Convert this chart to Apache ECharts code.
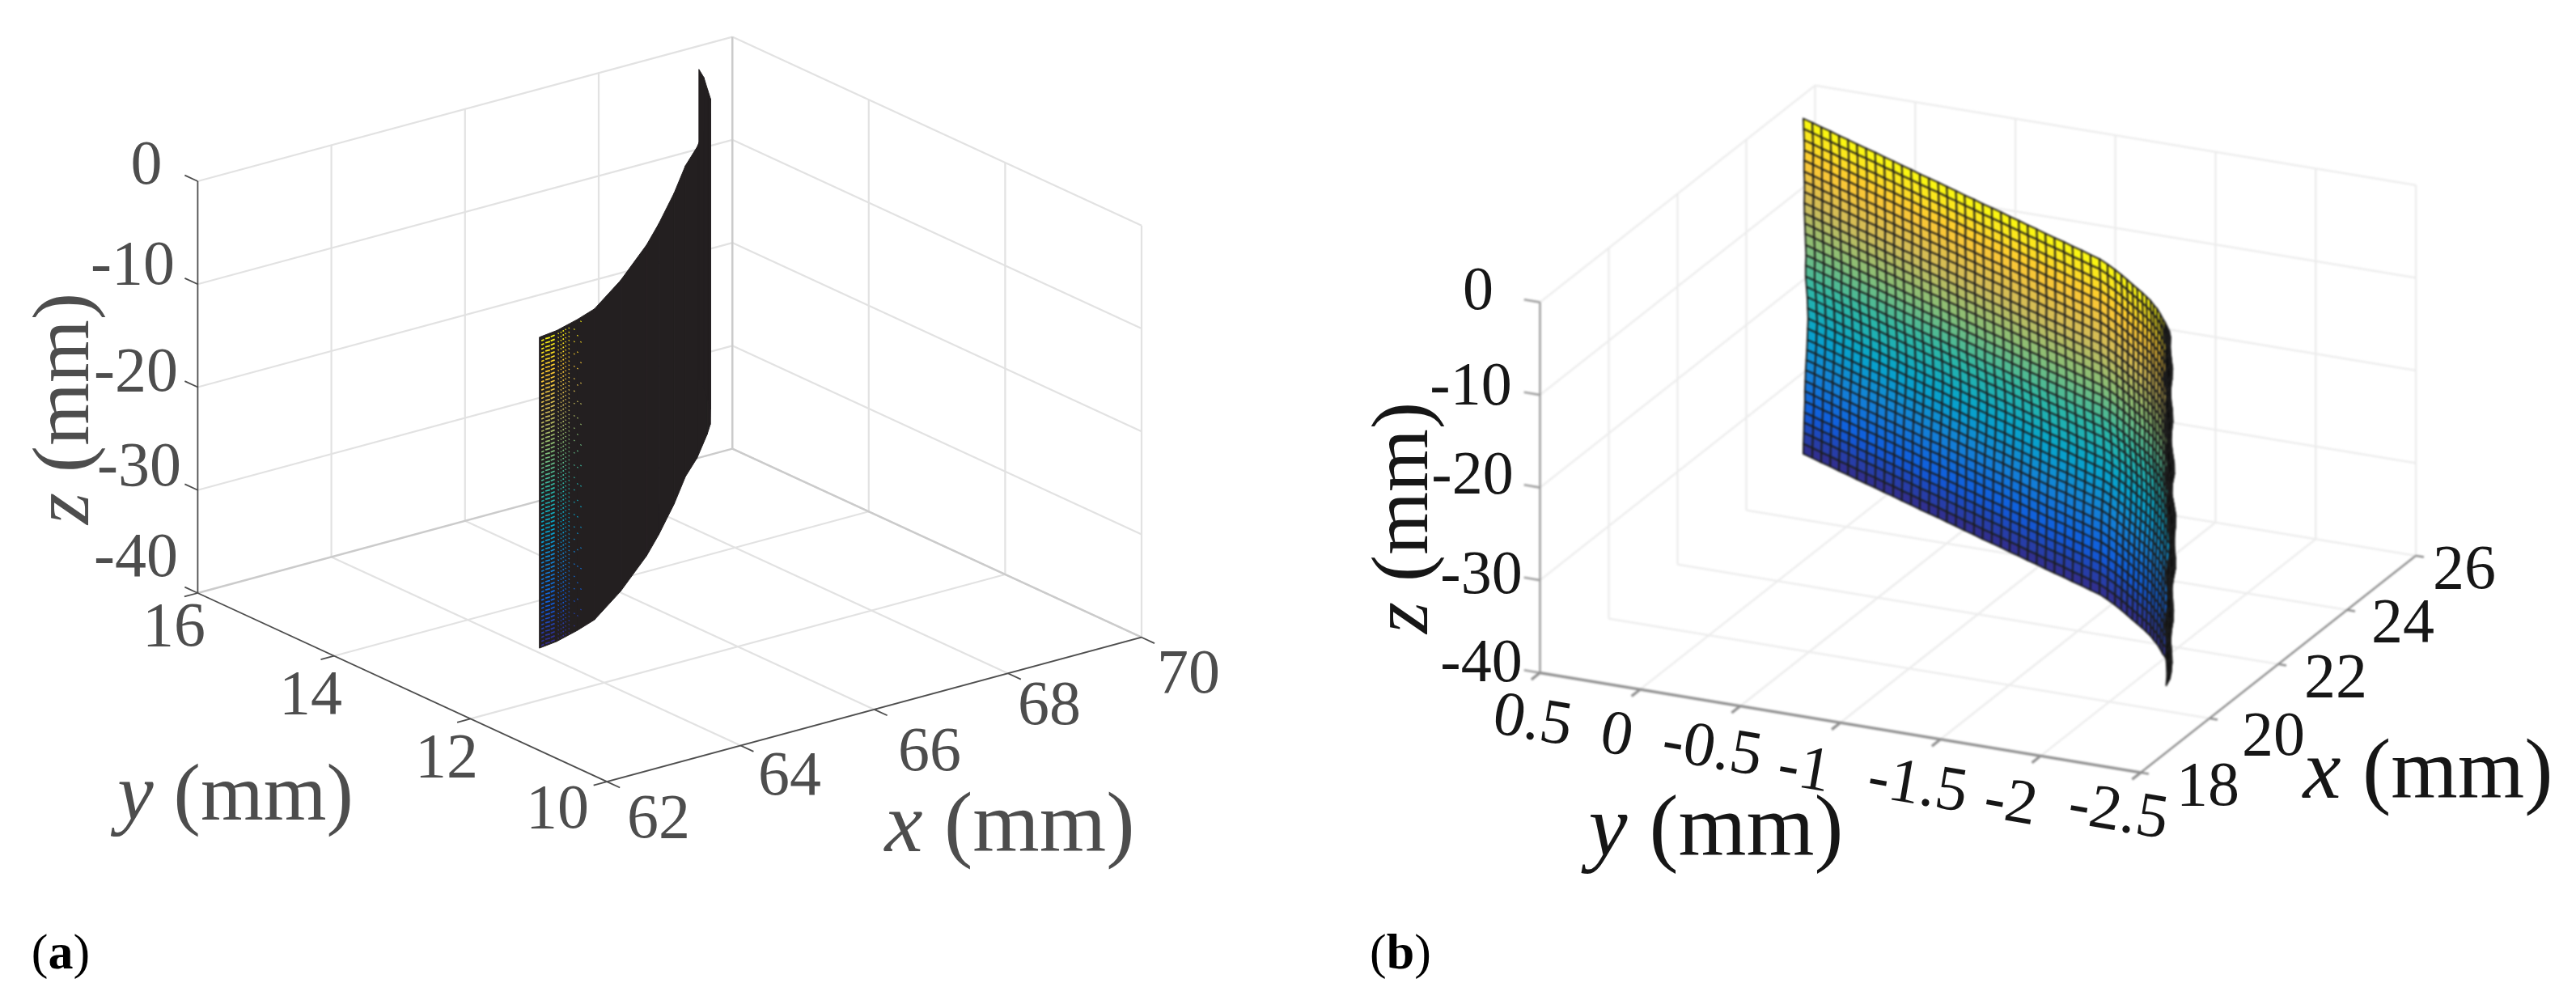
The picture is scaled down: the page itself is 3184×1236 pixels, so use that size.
<!DOCTYPE html>
<html><head><meta charset="utf-8">
<style>html,body{margin:0;padding:0;background:#fff}
#a{position:absolute;left:0;top:0;width:3184px;height:1236px}
#b{position:absolute;left:1592px;top:0;width:1592px;height:1236px;filter:blur(1.1px)}
#bt{position:absolute;left:1592px;top:0;width:1592px;height:1236px;filter:blur(0.4px)}</style>
<script src="https://cdn.jsdelivr.net/npm/echarts@6/dist/echarts.min.js"></script>
</head><body><div id="a"></div><div id="b"></div><div id="bt"></div>
<script>
// ---------- Panel (a): axis ticks ----------
const aXTicks=[62,64,66,68,70];
const aYTicks=[16,14,12,10];
const aZTicks=[0,-10,-20,-30,-40];
// Panel (a): surface columns (mm)
const aColX=[62.03,62.33,62.75,63.13,63.96,64.93,65.48,66.25,66.92,67.41,67.99,68.22,68.53,68.69,68.90,69.02];
const aColY=[11.02,11.06,11.17,11.29,11.72,12.29,12.65,13.18,13.67,13.98,14.40,14.58,14.88,15.08,15.34,15.53];
const aZTop=0;
const aZBottom=-30.2;
// Panel (a): where the colour still shows through the dense mesh (mm)
const aGapX0=[62.06,62.14,62.23,62.36,62.41,62.46,62.51,62.57,62.68,62.75,62.82];
const aGapY0=[11.02,11.04,11.05,11.07,11.08,11.10,11.11,11.12,11.15,11.17,11.19];
const aGapX1=[62.11,62.21,62.30,62.38,62.43,62.48,62.53,62.59,62.70,62.77,62.84];
const aGapY1=[11.03,11.04,11.06,11.08,11.09,11.10,11.12,11.13,11.16,11.18,11.20];
const aGapStride=[1,1,1,1,1,1,1,1,3,4,5];
const aRowZ=[-0.4,-0.8,-1.2,-1.6,-2,-2.4,-2.8,-3.2,-3.6,-4,-4.4,-4.8,-5.2,-5.6,-6,-6.4,-6.8,-7.2,-7.6,-8,-8.4,-8.8,-9.2,-9.6,-10,-10.4,-10.8,-11.2,-11.6,-12,-12.4,-12.8,-13.2,-13.6,-14,-14.4,-14.8,-15.2,-15.6,-16,-16.4,-16.8,-17.2,-17.6,-18,-18.4,-18.8,-19.2,-19.6,-20,-20.4,-20.8,-21.2,-21.6,-22,-22.4,-22.8,-23.2,-23.6,-24,-24.4,-24.8,-25.2,-25.6,-26,-26.4,-26.8,-27.2,-27.6,-28,-28.4,-28.8,-29.2,-29.6,-30];

// ---------- Panel (b): axis ticks ----------
const bXTicks=[18,20,22,24,26];
const bYTicks=[0.5,0,-0.5,-1,-1.5,-2,-2.5];
const bZTicks=[0,-10,-20,-30,-40];
// Panel (b): mesh lines (mm)
const bColX=[25.44,25.36,25.27,25.19,25.10,25.02,24.93,24.85,24.77,24.68,24.60,24.51,24.43,24.34,24.26,24.18,24.09,24.01,23.92,23.84,23.75,23.67,23.59,23.50,23.42,23.33,23.25,23.16,23.08,23.00,22.91,22.83,22.74,22.66,22.54,22.41,22.29,22.17,22.05,21.95,21.85,21.75,21.65,21.54,21.44,21.30,21.17,21.06,20.92,20.81,20.64,20.44,20.22];
const bColY=[0.463,0.404,0.344,0.285,0.226,0.167,0.107,0.048,-0.011,-0.071,-0.130,-0.189,-0.249,-0.308,-0.367,-0.427,-0.486,-0.545,-0.604,-0.664,-0.723,-0.782,-0.842,-0.901,-0.960,-1.020,-1.079,-1.138,-1.197,-1.257,-1.316,-1.375,-1.435,-1.494,-1.554,-1.614,-1.666,-1.715,-1.763,-1.804,-1.846,-1.884,-1.922,-1.956,-1.990,-2.030,-2.065,-2.096,-2.132,-2.160,-2.195,-2.223,-2.243];
const bRowZ=[-38,-36.9,-35.7,-34.6,-33.5,-32.3,-31.2,-30.1,-28.9,-27.8,-26.7,-25.6,-24.4,-23.3,-22.2,-21,-19.9,-18.8,-17.6,-16.5,-15.4,-14.2,-13.1,-12,-10.9,-9.7,-8.6,-7.5,-6.3,-5.2,-4.1,-2.9,-1.8];
const bRowDrift=[0,0.001,0.003,0.004,0.006,0.008,0.008,0.010,0.012,0.015,0.018,0.020,0.022,0.024,0.022,0.020,0.016,0.012,0.012,0.014,0.012,0.010,0.008,0.006,0.005,0.006,0.006,0.004,0.004,0.005,0.004,0.002,0];
const bEdgeDrift=[0.003,0.006,0.002,-0.004,-0.002,0.005,0.006,0,-0.005,-0.001,0.006,0.004,-0.003,-0.005,0.002,0.006,0.001,-0.005,-0.003,0.005,0.006,-0.001,-0.005,-0.001,0.006,0.003,-0.004,-0.004,0.003,0.005,-0.001,-0.004,0];
const bDenseFromColumn=47; // mesh lines merge to solid black from this column on

// ---------- Colour map and projections ----------
const parula=['#352a87','#0f5cdd','#1481d6','#06a4ca','#2eb7a4','#87bf77','#d1bb59','#fec832','#f9fb0e'];
function rgb(h){return [1,3,5].map(i=>parseInt(h.substr(i,2),16));}
function colormap(t){if(t<0)return '#101010';t=Math.min(1,t)*(parula.length-1);const i=Math.min(Math.floor(t),parula.length-2),f=t-i,a=rgb(parula[i]),b=rgb(parula[i+1]);
  return 'rgb('+a.map((v,k)=>Math.round(v+(b[k]-v)*f)).join(',')+')';}
const projA=(x,y,z)=>[244.4+(x-62)*82.6+(16-y)*84.3, 733-(z+40)*12.725-(x-62)*22.3+(16-y)*38.85];
const projB=(x,y,z)=>[1903.5+(x-18)*42.5+(0.5-y)*247.5, 831.6-(z+40)*11.45-(x-18)*33.5+(0.5-y)*41.1];

// ---------- Series helpers ----------
function lineSeries(proj,segs,color,width){
  const data=segs.map(s=>proj(...s[0]).concat(proj(...s[1])));
  return {type:'custom',coordinateSystem:'cartesian2d',silent:true,progressive:0,clip:false,data,
    renderItem:(p,api)=>{const a=api.coord([api.value(0),api.value(1)]),b=api.coord([api.value(2),api.value(3)]);
      return {type:'line',shape:{x1:a[0],y1:a[1],x2:b[0],y2:b[1]},style:{stroke:color,lineWidth:width}};}};
}
function colourDashSeries(proj,segs,width,t0,t1){
  const data=segs.map(s=>proj(...s[0]).concat(proj(...s[1]),[(s[0][2]-t0)/(t1-t0)]));
  return {type:'custom',coordinateSystem:'cartesian2d',silent:true,progressive:0,clip:false,data,
    renderItem:(p,api)=>{const a=api.coord([api.value(0),api.value(1)]),b=api.coord([api.value(2),api.value(3)]);
      return {type:'line',shape:{x1:a[0],y1:a[1],x2:b[0],y2:b[1]},style:{stroke:colormap(api.value(4)),lineWidth:width}};}};
}
function quadSeries(proj,quads,fillFn,stroke,width){
  const data=quads.map(q=>{const r=[];q.pts.forEach(P=>r.push(...proj(...P)));r.push(q.t);return r;});
  return {type:'custom',coordinateSystem:'cartesian2d',silent:true,progressive:0,clip:false,data,
    renderItem:(p,api)=>{const pts=[];for(let i=0;i<4;i++)pts.push(api.coord([api.value(2*i),api.value(2*i+1)]));
      return {type:'polygon',shape:{points:pts},style:{fill:fillFn(api.value(8)),stroke,lineWidth:width,lineJoin:'round'}};}};
}
const serif='"Liberation Serif"';
function textSeries(items){
  return {type:'custom',coordinateSystem:'cartesian2d',silent:true,progressive:0,clip:false,
    data:items.map(it=>[it.u,it.v]),
    renderItem:(p,api)=>{const it=items[p.dataIndex],c=api.coord([api.value(0),api.value(1)]);
      return {type:'text',x:c[0],y:c[1],rotation:it.rot||0,
        style:{text:it.text,
          rich:{i:{font:'italic '+it.size+'px '+serif,fill:it.fill},
                r:{font:it.size+'px '+serif,fill:it.fill},
                b:{font:'bold '+it.size+'px '+serif,fill:it.fill}},
          font:it.size+'px '+serif,fill:it.fill,align:'center',verticalAlign:'middle'}};}};
}
function chart(el,xMin,xMax,series){
  const c=echarts.init(document.getElementById(el),null,{renderer:'canvas'});
  c.setOption({animation:false,backgroundColor:'transparent',
    grid:{left:0,right:0,top:0,bottom:0,containLabel:false},
    xAxis:{type:'value',min:xMin,max:xMax,show:false},
    yAxis:{type:'value',min:0,max:1236,inverse:true,show:false},
    series});
}

// ---------- Panel (a) ----------
(function(){
  const x0=aXTicks[0],x1=aXTicks[4],y0=aYTicks[0],y1=aYTicks[3],z0=aZTicks[4],z1=aZTicks[0];
  const grid=[];
  aZTicks.slice(0,4).forEach(z=>{grid.push([[x0,y0,z],[x1,y0,z]]);grid.push([[x1,y0,z],[x1,y1,z]]);});
  aXTicks.slice(1).forEach(x=>{grid.push([[x,y0,z0],[x,y0,z1]]);grid.push([[x,y0,z0],[x,y1,z0]]);});
  aYTicks.slice(1).forEach(y=>{grid.push([[x1,y,z0],[x1,y,z1]]);grid.push([[x0,y,z0],[x1,y,z0]]);});
  const back=[[[x0,y0,z0],[x1,y0,z0]],[[x1,y0,z0],[x1,y1,z0]],[[x1,y0,z0],[x1,y0,z1]]];
  const axes=[[[x0,y0,z0],[x0,y0,z1]],[[x0,y0,z0],[x0,y1,z0]],[[x0,y1,z0],[x1,y1,z0]]];
  aZTicks.forEach(z=>axes.push([[x0,y0,z],[x0,y0+0.19,z]]));
  aYTicks.forEach(y=>axes.push([[x0,y,z0],[x0-0.2,y,z0]]));
  aXTicks.forEach(x=>axes.push([[x,y1,z0],[x,y1-0.19,z0]]));
  const quads=[];
  for(let j=0;j<aColX.length-1;j++)quads.push({t:0,pts:[[aColX[j],aColY[j],aZBottom],[aColX[j+1],aColY[j+1],aZBottom],[aColX[j+1],aColY[j+1],aZTop],[aColX[j],aColY[j],aZTop]]});
  const dashes=[];
  aGapX0.forEach((_,j)=>aRowZ.forEach((z,i)=>{if((i+j)%aGapStride[j]===0)dashes.push([[aGapX0[j],aGapY0[j],z],[aGapX1[j],aGapY1[j],z]]);}));
  const ink='#4d4d4d';
  const labels=[];
  const zp=[[181,207],[164,331],[168,463],[172,580],[168,692]];
  aZTicks.forEach((v,i)=>labels.push({u:zp[i][0],v:zp[i][1],text:String(v),size:78,fill:ink}));
  const yp=[[215,778],[384,862],[552,940],[689,1003]];
  aYTicks.forEach((v,i)=>labels.push({u:yp[i][0],v:yp[i][1],text:String(v),size:78,fill:ink}));
  const xp=[[814,1015],[976,962],[1149,932],[1297,875],[1469,836]];
  aXTicks.forEach((v,i)=>labels.push({u:xp[i][0],v:xp[i][1],text:String(v),size:78,fill:ink}));
  labels.push({u:83,v:505,text:'{i|z}{r| (mm)}',size:100,fill:ink,rot:Math.PI/2});
  labels.push({u:291,v:987,text:'{i|y}{r| (mm)}',size:100,fill:ink});
  labels.push({u:1248,v:1024,text:'{i|x}{r| (mm)}',size:106,fill:ink});
  labels.push({u:75,v:1181,text:'{r|(}{b|a}{r|)}',size:62,fill:'#000'});
  labels.push({u:1731,v:1181,text:'{r|(}{b|b}{r|)}',size:62,fill:'#000'});
  chart('a',0,3184,[
    lineSeries(projA,grid,'#e2e2e2',2.2),
    lineSeries(projA,back,'#cbcbcb',2.4),
    lineSeries(projA,axes,'#4d4d4d',1.8),
    quadSeries(projA,quads,()=>'#231f20','#231f20',1),
    colourDashSeries(projA,dashes,1.7,aZBottom,aZTop),
    textSeries(labels)
  ]);
})();

// ---------- Panel (b) ----------
(function(){
  const x0=bXTicks[0],x1=bXTicks[4],y0=bYTicks[0],y1=bYTicks[6],z0=bZTicks[4],z1=bZTicks[0];
  const grid=[];
  bZTicks.slice(0,4).forEach(z=>{grid.push([[x0,y0,z],[x1,y0,z]]);grid.push([[x1,y0,z],[x1,y1,z]]);});
  bXTicks.slice(1).forEach(x=>{grid.push([[x,y0,z0],[x,y0,z1]]);grid.push([[x,y0,z0],[x,y1,z0]]);});
  bYTicks.slice(1).forEach(y=>{grid.push([[x1,y,z0],[x1,y,z1]]);grid.push([[x0,y,z0],[x1,y,z0]]);});
  const zAxis=[[[x0,y0,z0],[x0,y0,z1]]];
  bZTicks.forEach(z=>zAxis.push([[x0,y0,z],[x0,y0+0.08,z]]));
  const yAxis=[[[x0,y0,z0],[x0,y1,z0]]];
  bYTicks.forEach(y=>yAxis.push([[x0,y,z0],[x0-0.25,y,z0]]));
  const xAxis=[[[x0,y1,z0],[x1,y1,z0]]];
  bXTicks.forEach(x=>xAxis.push([[x,y1,z0],[x,y1-0.04,z0]]));
  const zMin=bRowZ[0],zMax=bRowZ[bRowZ.length-1],quads=[];
  const P=(j,i)=>[bColX[j],bColY[j]-bRowDrift[i]-(j>=bDenseFromColumn?bEdgeDrift[i]:0),bRowZ[i]];
  for(let j=0;j<bColX.length-1;j++)for(let i=0;i<bRowZ.length-1;i++)
    quads.push({t:j>=bDenseFromColumn?-1:((bRowZ[i]+bRowZ[i+1])/2-zMin)/(zMax-zMin),pts:[P(j,i),P(j+1,i),P(j+1,i+1),P(j,i+1)]});
  const ink='#161616',labels=[];
  const zp=[[1827,362],[1818,480],[1820,590],[1831,713],[1831,822]];
  bZTicks.forEach((v,i)=>labels.push({u:zp[i][0],v:zp[i][1],text:String(v),size:76,fill:ink}));
  const yp=[[1894,893],[1998,911],[2116,928],[2230,953],[2370,973],[2485,994],[2618,1006]];
  bYTicks.forEach((v,i)=>labels.push({u:yp[i][0],v:yp[i][1],text:String(v),size:78,fill:ink,rot:-0.17}));
  const xp=[[2729,975],[2810,913],[2887,841],[2970,773],[3046,707]];
  bXTicks.forEach((v,i)=>labels.push({u:xp[i][0],v:xp[i][1],text:String(v),size:78,fill:ink}));
  labels.push({u:1738,v:640,text:'{i|z}{r| (mm)}',size:100,fill:ink,rot:Math.PI/2});
  labels.push({u:2121,v:1029,text:'{i|y}{r| (mm)}',size:108,fill:ink});
  labels.push({u:3001,v:958,text:'{i|x}{r| (mm)}',size:106,fill:ink});
  chart('b',1592,3184,[
    lineSeries(projB,grid,'#ececec',2.4),
    lineSeries(projB,zAxis,'#a0a0a0',2.6),
    lineSeries(projB,yAxis,'#8f8f8f',3.2),
    lineSeries(projB,xAxis,'#8a8a8a',2.4),
    quadSeries(projB,quads,t=>colormap(t),'#1c1c1c',1.9)
  ]);
  chart('bt',1592,3184,[textSeries(labels)]);
})();
</script></body></html>
